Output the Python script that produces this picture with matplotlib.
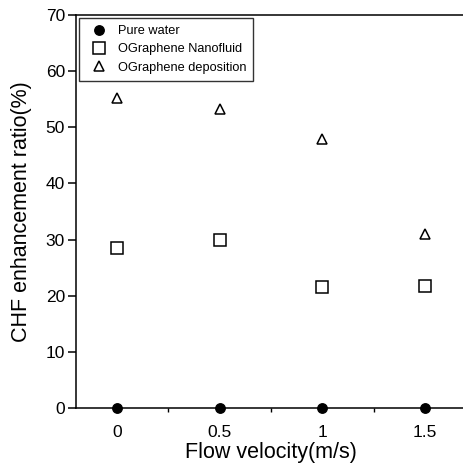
import matplotlib
matplotlib.use('Agg')
import matplotlib.pyplot as plt
from matplotlib.ticker import MultipleLocator

plt.rcParams['font.family'] = ['Liberation Sans', 'DejaVu Sans']

velocity = [0, 0.5, 1, 1.5]
pure_water = [0, 0, 0, 0]
nanofluid = [28.5, 30.0, 21.6, 21.8]
deposition = [55.2, 53.2, 48.0, 31.0]

fig = plt.figure(figsize=(4.64, 4.67), dpi=100)
ax = fig.add_axes([0.164, 0.1263, 0.84, 0.8415])

ax.plot(velocity, pure_water, 'o', color='black', markersize=6.8, label='Pure water', clip_on=False, zorder=5)
ax.plot(velocity, nanofluid, 's', mfc='white', mec='black', mew=1.1, markersize=8.5, label='OGraphene Nanofluid')
ax.plot(velocity, deposition, '^', mfc='white', mec='black', mew=1.1, markersize=7.5, label='OGraphene deposition')

ax.set_xlim(-0.2, 1.7)
ax.set_ylim(0, 70)
ax.set_xticks(velocity)
ax.set_xticklabels(['0', '0.5', '1', '1.5'])
ax.xaxis.set_minor_locator(MultipleLocator(0.25))
ax.yaxis.set_major_locator(MultipleLocator(10))

ax.spines['right'].set_visible(False)
for s in ['left', 'top', 'bottom']:
    ax.spines[s].set_linewidth(1.1)

ax.tick_params(axis='y', direction='out', length=6, width=1.1, labelsize=12.5, pad=2)
ax.tick_params(axis='x', which='major', direction='in', length=3, width=1.1, labelsize=12.5, pad=12)
ax.tick_params(axis='x', which='minor', direction='out', length=3, width=1)

ax.set_xlabel('Flow velocity(m/s)', fontsize=15.5, labelpad=1.5)
ax.set_ylabel('CHF enhancement ratio(%)', fontsize=15.5, labelpad=10)

leg = ax.legend(loc='upper left', fontsize=9.2, frameon=True, fancybox=False,
                edgecolor='black', borderaxespad=0.25, handletextpad=0.45,
                labelspacing=0.48, borderpad=0.55, handlelength=2.0)
leg.get_frame().set_linewidth(1.0)

fig.savefig('out.png', dpi=100)
